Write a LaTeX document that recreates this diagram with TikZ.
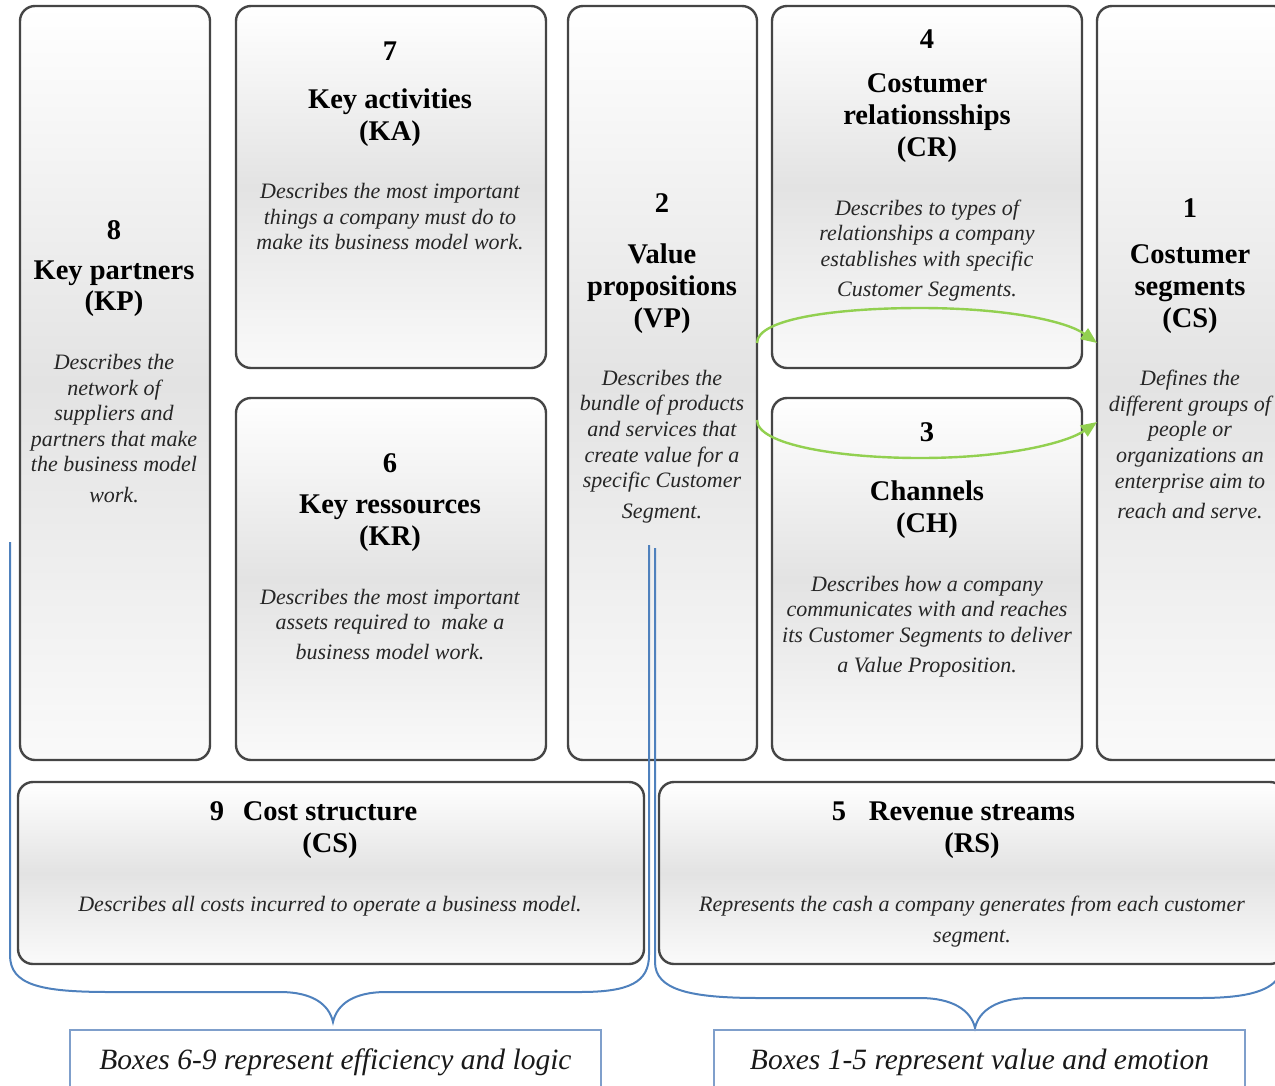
\documentclass[tikz,border=0pt]{standalone}
\usepackage{fontspec}
\setmainfont{Liberation Serif}
\usetikzlibrary{arrows.meta}
\definecolor{boxline}{HTML}{454545}
\definecolor{braceblue}{HTML}{4F81BD}
\definecolor{labelblue}{HTML}{7F9FCB}
\definecolor{arrowgreen}{HTML}{92D050}
\tikzset{
  bmcbox/.style={draw=boxline, line width=2.4pt, rounded corners=15pt,
    top color=white, bottom color=black!2, middle color=black!11,
    inner sep=0pt, outer sep=0pt},
  ttl/.style={font=\fontsize{28.5}{32}\selectfont\bfseries, inner sep=0pt, anchor=base},
  dsc/.style={font=\fontsize{22}{25.5}\selectfont\itshape, inner sep=0pt, anchor=base, text=black!85},
  labelbox/.style={draw=labelblue, line width=1.3pt, inner sep=0pt,
    font=\fontsize{29.5}{32}\selectfont\itshape, text=black!90},
  brace/.style={draw=braceblue, line width=2pt},
  greenarrow/.style={draw=arrowgreen, line width=2.4pt, -{Triangle[length=16pt,width=13pt]}}
}
\newcommand\textlines[4]{%
  \foreach \yy/\mytxt [count=\i] in {#4}{\node[#3] (#1-\i) at (#2,\yy) {\mytxt};}}
\begin{document}
\begin{tikzpicture}[x=1pt,y=-1pt]
\useasboundingbox (0,0) rectangle (1275,1085);
\clip (0,0) rectangle (1275,1085);

% boxes
\node[bmcbox, minimum width=190pt, minimum height=754pt] (kp) at (115,383) {};
\node[bmcbox, minimum width=310pt, minimum height=362pt] (ka) at (391,187) {};
\node[bmcbox, minimum width=310pt, minimum height=362pt] (kr) at (391,579) {};
\node[bmcbox, minimum width=189pt, minimum height=754pt] (vp) at (662.5,383) {};
\node[bmcbox, minimum width=310pt, minimum height=362pt] (cr) at (927,187) {};
\node[bmcbox, minimum width=310pt, minimum height=362pt] (ch) at (927,579) {};
\node[bmcbox, minimum width=192pt, minimum height=754pt] (cs) at (1193,383) {};
\node[bmcbox, minimum width=626pt, minimum height=182pt] (cost) at (331,873) {};
\node[bmcbox, minimum width=626pt, minimum height=182pt] (rev) at (972,873) {};

% box 8
\textlines{kpt}{114}{ttl}{239/8, 279/Key partners, 310/(KP)}
\textlines{kpd}{114}{dsc}{369/Describes the, 395/network of, 420/suppliers and, 446/partners that make, 471/the business model, 502/work.}
% box 7
\textlines{kat}{390}{ttl}{60/7, 108/Key activities, 140/(KA)}
\textlines{kad}{390}{dsc}{198/Describes the most important, 224/things a company must do to, 249/make its business model work.}
% box 6
\textlines{krt}{390}{ttl}{472/6, 513/Key ressources, 545/(KR)}
\textlines{krd}{390}{dsc}{604/Describes the most important, 629/assets required to \ make a, 659/business model work.}
% box 2
\textlines{vpt}{662}{ttl}{212/2, 263/Value, 295/propositions, 327/(VP)}
\textlines{vpd}{662}{dsc}{385/Describes the, 410/bundle of products, 436/and services that, 462/create value for a, 487/specific Customer, 518/Segment.}
% box 4
\textlines{crt}{927}{ttl}{48/4, 92/Costumer, 124/relationsships, 156/(CR)}
\textlines{crd}{927}{dsc}{215/Describes to types of, 240/relationships a company, 266/establishes with specific, 296/Customer Segments.}
% box 3
\textlines{cht}{927}{ttl}{441/3, 500/Channels, 532/(CH)}
\textlines{chd}{927}{dsc}{591/Describes how a company, 616/communicates with and reaches, 642/its Customer Segments to deliver, 672/a Value Proposition.}
% box 1
\textlines{cst}{1190}{ttl}{217/1, 263/Costumer, 295/segments, 327/(CS)}
\textlines{csd}{1190}{dsc}{385/Defines the, 411/different groups of, 436/people or, 462/organizations an, 488/enterprise aim to, 518/reach and serve.}
% box 9
\node[ttl] (costn) at (217,820) {9};
\textlines{costt}{330}{ttl}{820/Cost structure, 852/(CS)}
\textlines{costd}{330}{dsc}{911/Describes all costs incurred to operate a business model.}
% box 5
\node[ttl] (revn) at (839,820) {5};
\textlines{revt}{972}{ttl}{820/Revenue streams, 852/(RS)}
\textlines{revd}{972}{dsc}{911/Represents the cash a company generates from each customer, 942/segment.}

% green arrows
\coordinate (g1s) at (757,343);
\coordinate (g1e) at (1097,343);
\coordinate (g2s) at (757,420);
\coordinate (g2e) at (1097,422);
\draw[greenarrow] (g1s) .. controls (757,318) and (840,308) .. (920,308)
  .. controls (1010,308) and (1068,322) .. (g1e);
\draw[greenarrow] (g2s) .. controls (757,445) and (840,458) .. (920,458)
  .. controls (1010,458) and (1068,442) .. (g2e);

% braces
\coordinate (lb1) at (10,542);
\coordinate (lbtip) at (333,1022);
\coordinate (lb2) at (649,545);
\draw[brace] (lb1) -- (10,955) .. controls (10,985) and (40,992) .. (110,992)
  -- (280,992) .. controls (312,992) and (329,1004) .. (lbtip)
  .. controls (337,1004) and (354,992) .. (386,992) -- (580,992)
  .. controls (630,992) and (649,982) .. (649,955) -- (lb2);
\coordinate (rb1) at (655,548);
\coordinate (rbtip) at (975,1028);
\draw[brace] (rb1) -- (655,962) .. controls (655,990) and (690,998) .. (760,998)
  -- (920,998) .. controls (952,998) and (971,1010) .. (rbtip)
  .. controls (979,1010) and (998,998) .. (1030,998) -- (1200,998)
  .. controls (1250,998) and (1272,990) .. (1280,975);

% labels
\node[labelbox, minimum width=531pt, minimum height=64pt] (lab1) at (335.5,1062) {Boxes 6-9 represent efficiency and logic};
\node[labelbox, minimum width=531pt, minimum height=64pt] (lab2) at (979.5,1062) {Boxes 1-5 represent value and emotion};
\end{tikzpicture}
\end{document}
